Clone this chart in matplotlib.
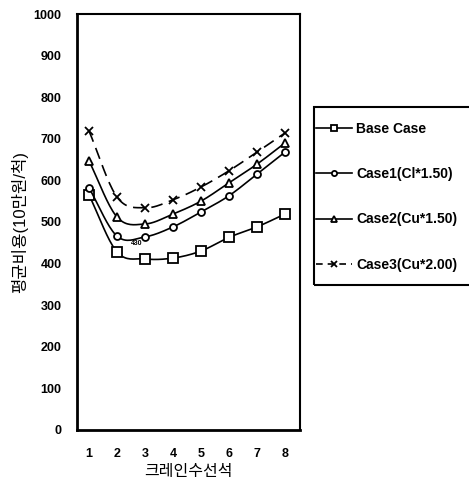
import numpy as np
import matplotlib.pyplot as plt
from matplotlib.patches import Rectangle

plt.rcParams['font.family'] = ['Liberation Sans', 'Noto Sans CJK KR', 'DejaVu Sans']

cranes = [1, 2, 3, 4, 5, 6, 7, 8]
base = [565, 428, 411, 413, 430, 463, 488, 519]
case1 = [582, 466, 464, 488, 524, 563, 615, 668]
case2 = [647, 512, 495, 519, 550, 594, 639, 690]
case3 = [719, 560, 534, 553, 584, 623, 668, 714]
labels = ["Base Case", "Case1(Cl*1.50)", "Case2(Cu*1.50)", "Case3(Cu*2.00)"]
yticks = [0, 100, 200, 300, 400, 500, 600, 700, 800, 900, 1000]


def smooth(x, y, n=20):
    # Catmull-Rom curve through the points, only for drawing the line
    x = np.asarray(x, float)
    y = np.asarray(y, float)
    px = np.r_[2 * x[0] - x[1], x, 2 * x[-1] - x[-2]]
    py = np.r_[2 * y[0] - y[1], y, 2 * y[-1] - y[-2]]
    xs, ys = [], []
    t = np.linspace(0, 1, n)
    for i in range(1, len(px) - 2):
        for p, out in ((px, xs), (py, ys)):
            p0, p1, p2, p3 = p[i - 1], p[i], p[i + 1], p[i + 2]
            out.extend(0.5 * (2 * p1 + (-p0 + p2) * t
                              + (2 * p0 - 5 * p1 + 4 * p2 - p3) * t ** 2
                              + (-p0 + 3 * p1 - 3 * p2 + p3) * t ** 3))
    return xs, ys


W, H = 469, 484
fig = plt.figure(figsize=(W / 100, H / 100), dpi=100)
ax = fig.add_axes([0.164, 0.112, 0.476, 0.859])

styles = [
    (base, "s", 6.5, "-"),
    (case1, "o", 5, "-"),
    (case2, "^", 5.5, "-"),
    (case3, "x", 6, (0, (7, 4))),
]
handles = []
for (vals, mk, ms, ls), lab in zip(styles, labels):
    sx, sy = smooth(cranes, vals)
    ax.plot(sx, sy, color="black", lw=1.2, ls=ls)
    ax.plot(cranes, vals, ls="none", marker=mk, ms=ms, mfc="white",
            mec="black", mew=1.3, color="black")
    h, = plt.plot([], [], color="black", lw=1.2,
                  ls="-" if mk != "x" else (0, (4, 3)), marker=mk,
                  ms=ms * 0.75, mfc="white", mec="black", mew=1.3)
    handles.append(h)

ax.text(2.7, 445, "430", fontsize=5, fontweight="bold", ha="center")

ax.set_xlim(0.57, 8.54)
ax.set_ylim(0, 1000)
ax.set_xticks(cranes)
ax.set_yticks(yticks)
ax.tick_params(length=0, labelsize=9)
ax.tick_params(axis="x", pad=13)
ax.tick_params(axis="y", pad=11)
for lab in ax.get_xticklabels() + ax.get_yticklabels():
    lab.set_fontweight("bold")
for side in ["left", "bottom"]:
    ax.spines[side].set_linewidth(2)
for side in ["top", "right"]:
    ax.spines[side].set_linewidth(1.5)

ax.set_xlabel("크레인수선석", fontsize=11.5, labelpad=3)
ax.set_ylabel("평균비용(10만원/척)", fontsize=12, labelpad=4)

# legend box runs past the right edge in the scan
fig.patches.append(Rectangle((314 / W, 1 - 285 / H), 170 / W, 178 / H,
                             transform=fig.transFigure, fill=False,
                             ec="black", lw=1.5))
leg = fig.legend(handles, labels, loc="upper left",
                 bbox_to_anchor=(316 / W, 1 - 122 / H),
                 fontsize=10, frameon=False,
                 handlelength=2.6, handletextpad=0.3, labelspacing=2.25,
                 borderpad=0.0, borderaxespad=0)
for t in leg.get_texts():
    t.set_fontweight("bold")

fig.savefig("out.png", dpi=100)
